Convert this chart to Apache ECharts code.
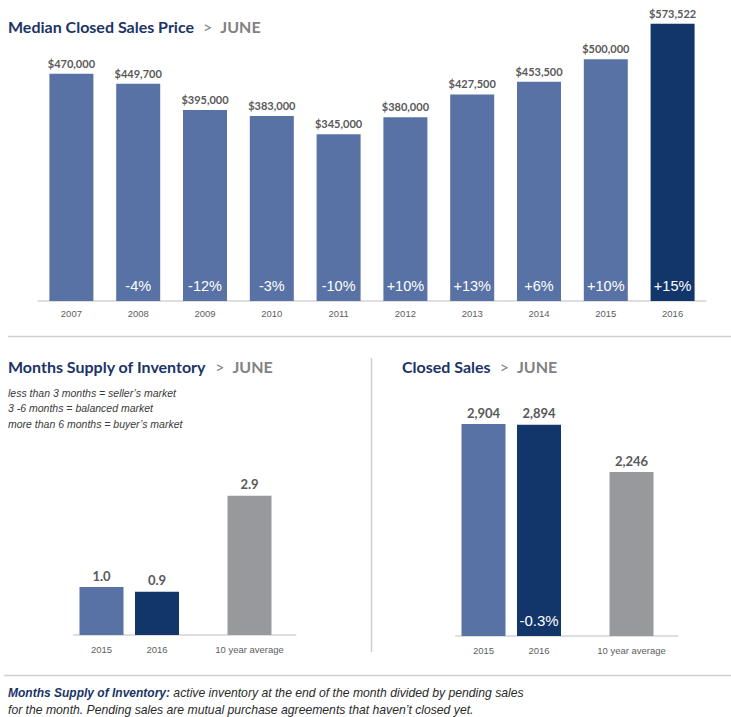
<!DOCTYPE html>
<html><head><meta charset="utf-8">
<script src="https://cdn.jsdelivr.net/npm/echarts@6/dist/echarts.min.js"></script>
<style>html,body{margin:0;padding:0;background:#fff}#c{width:731px;height:717px}</style>
</head><body><div id="c"></div>
<script>
// ---- data ----
const years = ['2007','2008','2009','2010','2011','2012','2013','2014','2015','2016'];
const medianPrice = [470000,449700,395000,383000,345000,380000,427500,453500,500000,573522];
const priceChange = ['','-4%','-12%','-3%','-10%','+10%','+13%','+6%','+10%','+15%'];
const periodCats = ['2015','2016','10 year average'];
const monthsSupply = [1.0, 0.9, 2.9];
const closedSales = [2904, 2894, 2246];
const closedChange = ['', '-0.3%', ''];

// ---- style ----
const BLUE = '#5872a5', NAVY = '#12366a', GRAY = '#98999d';
const TITLE = '#1b3466', SUB = '#828282', LBL = '#595959';
const NARROW = '"Liberation Sans", Arial, sans-serif';
const BOLDF = 'Lato, "Open Sans", sans-serif';
const periodColors = [BLUE, NAVY, GRAY];
const slotOf = [1, 4, 9], NSLOT = 12;

function slotCats() { const a = new Array(NSLOT).fill(''); slotOf.forEach((s,i)=>a[s]=periodCats[i]); return a; }
function slotData(vals) { const a = new Array(NSLOT).fill('-'); slotOf.forEach((s,i)=>a[s]={value:vals[i], itemStyle:{color:periodColors[i]}}); return a; }
function slotIdx(dataIndex){ return slotOf.indexOf(dataIndex); }

const chart = echarts.init(document.getElementById('c'), null, {renderer:'svg'});
const fmtUS = v => Number(v).toLocaleString('en-US');

const titleRich = {
  a:{fontFamily:BOLDF, fontWeight:'bold', fontSize:16, color:TITLE},
  g:{fontFamily:BOLDF, fontWeight:'normal', fontSize:16, color:SUB, padding:[0,8,0,9]},
  b:{fontFamily:BOLDF, fontWeight:'bold', fontSize:16, color:SUB}
};
function mkTitle(txt, left, top){ return {text:'{a|'+txt+'}{g|>}{b|JUNE}', left, top, padding:0, textStyle:{rich:titleRich}}; }

const xCommon = {
  axisTick:{show:false},
  axisLine:{lineStyle:{color:'#d4d4d4', width:1.5}},
  axisLabel:{color:'#606060', fontFamily:NARROW, fontSize:9.5, interval:0}
};
const yCommon = {type:'value', min:0, show:false, splitLine:{show:false}};

const option = {
  animation:false,
  title:[
    mkTitle('Median Closed Sales Price', 8, 18),
    mkTitle('Months Supply of Inventory', 8, 358),
    mkTitle('Closed Sales', 402, 358),
    {text:'less than 3 months = seller\u2019s market\n3 -6 months = balanced market\nmore than 6 months = buyer\u2019s market',
     left:8, top:385, padding:0,
     textStyle:{fontFamily:NARROW, fontStyle:'italic', fontWeight:'normal', fontSize:10.5, lineHeight:15.5, color:'#3a3a3a'}},
    {text:'{b|Months Supply of Inventory:}{n| active inventory at the end of the month divided by pending sales}\n{n|for the month. Pending sales are mutual purchase agreements that haven\u2019t closed yet.}',
     left:8, top:684, padding:0,
     textStyle:{fontWeight:'normal', rich:{
       b:{fontFamily:NARROW, fontStyle:'italic', fontWeight:'bold', fontSize:12, color:TITLE, lineHeight:17},
       n:{fontFamily:NARROW, fontStyle:'italic', fontWeight:'normal', fontSize:12.2, color:'#2a2a2a', lineHeight:17}}}}
  ],
  grid:[
    {left:38, right:25, top:11, bottom:416},
    {left:73.75, width:222, top:467, bottom:82},
    {left:455.75, width:222, top:417, bottom:81}
  ],
  xAxis:[
    Object.assign({type:'category', gridIndex:0, data:years}, xCommon, {axisLabel:Object.assign({}, xCommon.axisLabel, {margin:7})}),
    Object.assign({type:'category', gridIndex:1, data:slotCats()}, xCommon, {axisLabel:Object.assign({}, xCommon.axisLabel, {margin:9})}),
    Object.assign({type:'category', gridIndex:2, data:slotCats()}, xCommon, {axisLabel:Object.assign({}, xCommon.axisLabel, {margin:9})})
  ],
  yAxis:[
    Object.assign({gridIndex:0, max:600000}, yCommon),
    Object.assign({gridIndex:1, max:3.5}, yCommon),
    Object.assign({gridIndex:2, max:3000}, yCommon)
  ],
  graphic:[
    {type:'line', shape:{x1:8, y1:336.5, x2:731, y2:336.5}, style:{stroke:'#cfcfcf', lineWidth:1.5}},
    {type:'line', shape:{x1:371.5, y1:358, x2:371.5, y2:652}, style:{stroke:'#cfcfcf', lineWidth:1.5}},
    {type:'line', shape:{x1:4, y1:675.5, x2:731, y2:675.5}, style:{stroke:'#cfcfcf', lineWidth:1.5}}
  ],
  series:[
    {type:'bar', xAxisIndex:0, yAxisIndex:0, barWidth:44,
     data: medianPrice.map((v,i)=>({value:v, itemStyle:{color: i===medianPrice.length-1 ? NAVY : BLUE}})),
     label:{show:true, position:'top', distance:5, formatter:p=>'$'+fmtUS(p.value),
            fontFamily:BOLDF, fontWeight:'bold', fontSize:11, color:LBL}},
    {type:'bar', xAxisIndex:0, yAxisIndex:0, barWidth:44, barGap:'-100%', silent:true,
     data: medianPrice, itemStyle:{color:'rgba(0,0,0,0)'},
     label:{show:true, position:'insideBottom', distance:8, formatter:p=>priceChange[p.dataIndex],
            fontFamily:NARROW, fontSize:14.5, color:'#ffffff'}},
    {type:'bar', xAxisIndex:1, yAxisIndex:1, barWidth:44, data: slotData(monthsSupply),
     label:{show:true, position:'top', distance:5, formatter:p=>Number(p.value).toFixed(1),
            fontFamily:BOLDF, fontWeight:'bold', fontSize:13, color:LBL}},
    {type:'bar', xAxisIndex:2, yAxisIndex:2, barWidth:44, data: slotData(closedSales),
     label:{show:true, position:'top', distance:5, formatter:p=>fmtUS(p.value),
            fontFamily:BOLDF, fontWeight:'bold', fontSize:13, color:LBL}},
    {type:'bar', xAxisIndex:2, yAxisIndex:2, barWidth:44, barGap:'-100%', silent:true,
     data: slotData(closedSales).map(d=>d==='-'?'-':d.value), itemStyle:{color:'rgba(0,0,0,0)'},
     label:{show:true, position:'insideBottom', distance:8, formatter:p=>closedChange[slotIdx(p.dataIndex)],
            fontFamily:NARROW, fontSize:15, color:'#ffffff'}}
  ]
};
chart.setOption(option);
</script></body></html>
